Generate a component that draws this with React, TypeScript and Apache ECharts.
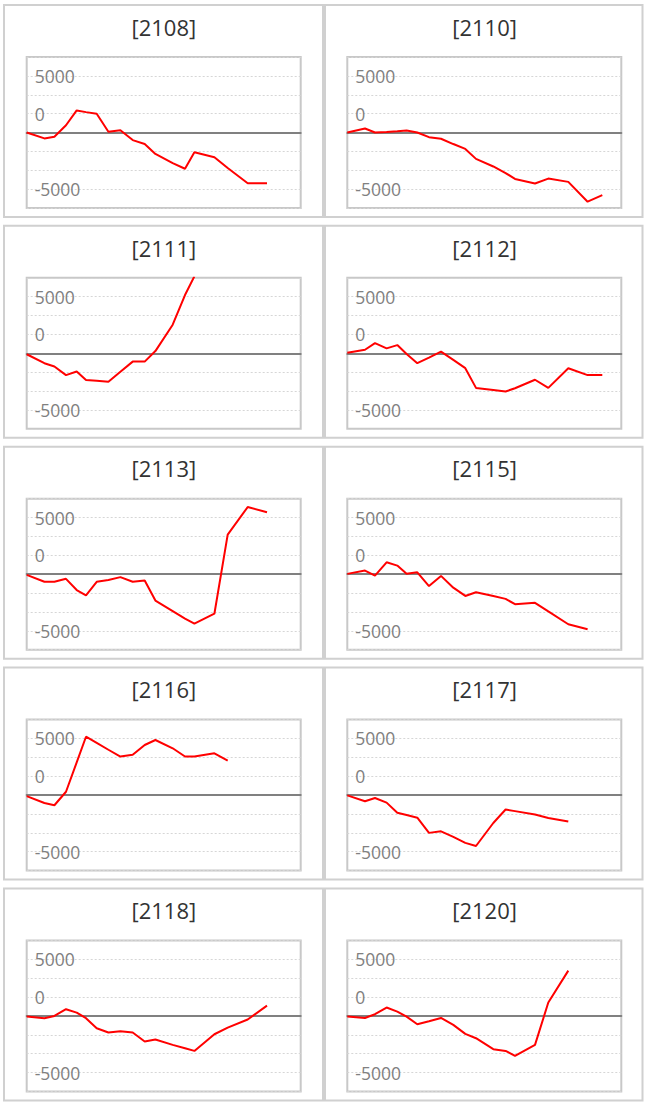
import React, { useEffect, useRef } from "react";
import * as echarts from "echarts";

// Panel codes (titles)
const panelCodes = ["2108", "2110", "2111", "2112", "2113", "2115", "2116", "2117", "2118", "2120"];

// Shared elapsed-time positions of the observations (x values)
const elapsed = [0, 17.7, 27.7, 39.3, 50, 59.3, 70, 81.7, 93.7, 106, 118, 128.7, 146, 158.3, 167.7, 187.7, 201, 221, 240.3, 255];
const elapsedMax = 274;

// Cumulative values per panel
const s2108 = [0, -520, -380, 640, 1950, 1800, 1660, 60, 200, -670, -1020, -1890, -2700, -3200, -1750, -2180, -3140, -4480, -4480];
const s2110 = [0, 350, 0, 50, 100, 175, 0, -410, -550, -1020, -1450, -2330, -3000, -3580, -4100, -4500, -4070, -4360, -6110, -5530];
const s2111 = [-80, -870, -1160, -1920, -1600, -2350, -2410, -2500, -1630, -730, -730, 200, 2530, 5150, 6800];
const s2112 = [60, 320, 900, 440, 730, -60, -870, -380, 150, -580, -1310, -3050, -3230, -3370, -3080, -2330, -3050, -1310, -1920, -1920];
const s2113 = [-60, -670, -670, -410, -1400, -1860, -670, -520, -260, -670, -550, -2330, -3260, -3920, -4360, -3490, 3490, 5930, 5470];
const s2115 = [30, 320, -120, 1050, 760, 30, 170, -1050, -150, -1190, -1920, -1600, -1920, -2180, -2650, -2530, -3290, -4420, -4860];
const s2116 = [-90, -700, -900, 290, 2880, 5150, 4600, 4000, 3400, 3550, 4420, 4860, 4130, 3400, 3400, 3690, 3050];
const s2117 = [-30, -550, -260, -670, -1570, -1770, -2000, -3340, -3200, -3690, -4220, -4500, -2470, -1280, -1420, -1720, -2030, -2330];
const s2118 = [-60, -200, 0, 590, 290, -200, -1090, -1470, -1350, -1470, -2260, -2090, -2560, -2850, -3090, -1620, -1030, -320, 910];
const s2120 = [-60, -180, 150, 740, 380, -60, -740, -470, -180, -790, -1590, -1970, -2940, -3090, -3530, -2560, 1180, 4000];

const seriesValues = [s2108, s2110, s2111, s2112, s2113, s2115, s2116, s2117, s2118, s2120];

// Y axis scale and tick labels
const yStep = 5000 / 3;
const yMin = -4 * yStep;
const yMax = 4 * yStep;
const yLabelTicks = [5000, yStep, -5000];
const yLabelTexts = ["5000", "0", "-5000"];

const FONT = '"Open Sans", "Liberation Sans", Arial, sans-serif';

export default function App() {
  const ref = useRef<HTMLDivElement>(null);

  useEffect(() => {
    if (!ref.current) return;
    const chart = echarts.init(ref.current, null, { renderer: "svg" });

    const rowPitch = 220.85;
    const grids: any[] = [];
    const xAxes: any[] = [];
    const yAxes: any[] = [];
    const series: any[] = [];
    const elements: any[] = [];

    panelCodes.forEach((code, i) => {
      const col = i % 2;
      const row = Math.floor(i / 2);
      const panelX = col === 0 ? 4 : 325;
      const panelW = col === 0 ? 319 : 317.5;
      const panelY = 5 + row * rowPitch;
      elements.push({
        type: "rect",
        shape: { x: panelX, y: panelY, width: panelW, height: 212 },
        style: { fill: "#fff", stroke: "#d0d0d0", lineWidth: 2 },
        z: -10,
      });
      elements.push({
        type: "text",
        x: col === 0 ? 163.8 : 484.6,
        y: 26.7 + row * rowPitch,
        style: {
          text: "[" + code + "]",
          fill: "#333333",
          fontSize: 22,
          fontFamily: FONT,
          align: "center",
          verticalAlign: "middle",
          textAlign: "center",
          textVerticalAlign: "middle",
        },
        z: 10,
      });

      grids.push({
        left: col === 0 ? 26.7 : 347.3,
        top: 57 + row * rowPitch,
        width: 274,
        height: 151,
        show: true,
        borderColor: "#c8c8c8",
        borderWidth: 2,
        backgroundColor: "transparent",
        containLabel: false,
      });

      xAxes.push({
        type: "value",
        gridIndex: i,
        min: 0,
        max: elapsedMax,
        axisLabel: { show: false },
        axisTick: { show: false },
        splitLine: { show: false },
        axisLine: { show: true, onZero: true, lineStyle: { color: "#808080", width: 2 } },
      });

      yAxes.push({
        type: "value",
        gridIndex: i,
        min: yMin,
        max: yMax,
        interval: yStep,
        axisLine: { show: false },
        axisTick: { show: false },
        splitLine: { show: true, lineStyle: { color: "#d6d6d6", width: 1, type: [2, 2] } },
        axisLabel: {
          inside: true,
          margin: 8,
          color: "#808080",
          fontSize: 17.5,
          fontFamily: FONT,
          verticalAlign: "middle",
          formatter: (v: number) => {
            for (let k = 0; k < yLabelTicks.length; k++) {
              if (Math.abs(v - yLabelTicks[k]) < 1) return yLabelTexts[k];
            }
            return "";
          },
        },
      });

      const vals = seriesValues[i];
      series.push({
        type: "line",
        xAxisIndex: i,
        yAxisIndex: i,
        data: vals.map((v, j) => [elapsed[j], v]),
        symbol: "none",
        clip: true,
        lineStyle: { color: "#ff0000", width: 2 },
        itemStyle: { color: "#ff0000" },
        z: 5,
      });
    });

    chart.setOption({
      animation: false,
      backgroundColor: "#ffffff",
      grid: grids,
      xAxis: xAxes,
      yAxis: yAxes,
      series,
      graphic: { elements },
    });

    return () => chart.dispose();
  }, []);

  return (
    <div
      ref={ref}
      style={{ position: "absolute", left: 0, top: 0, width: 648, height: 1105 }}
    />
  );
}
